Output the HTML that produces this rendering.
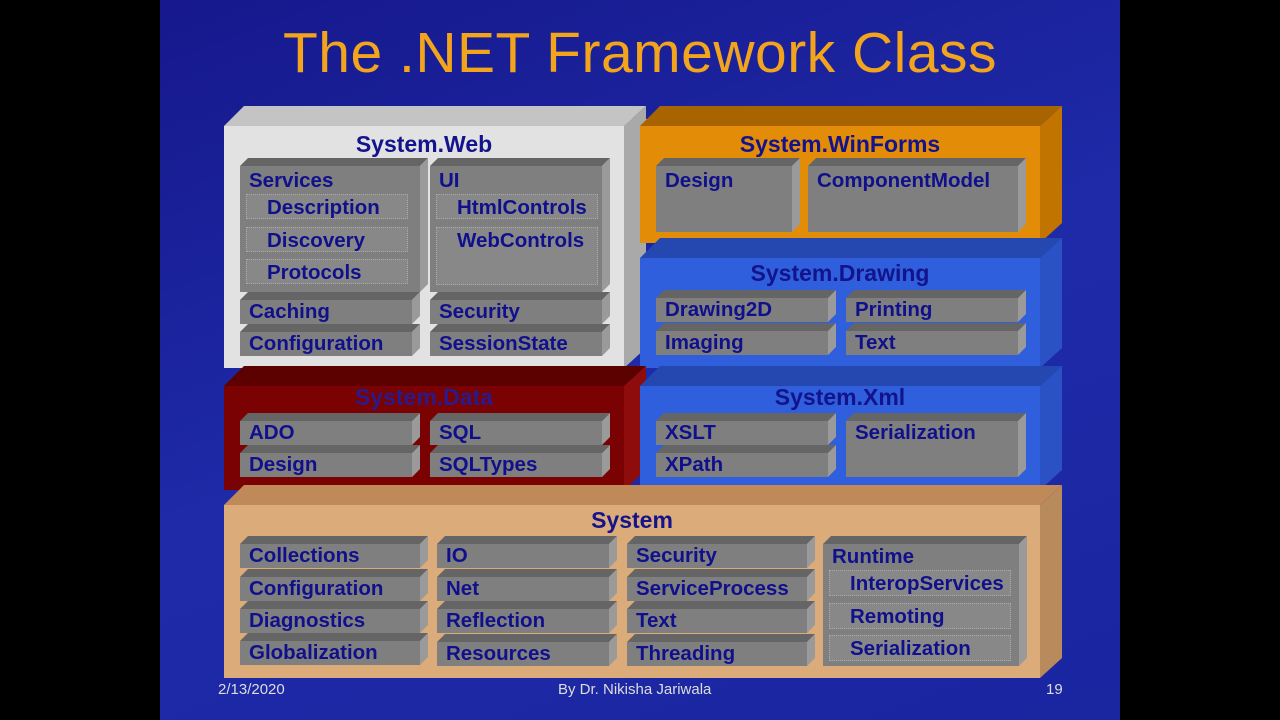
<!DOCTYPE html>
<html><head><meta charset="utf-8"><style>
*{margin:0;padding:0;box-sizing:border-box}
body{width:1280px;height:720px;background:#000;position:relative;overflow:hidden;font-family:"Liberation Sans",Arial,sans-serif;font-weight:bold}
#bg{position:absolute;left:160px;top:0;width:960px;height:720px;background:linear-gradient(160deg,#16188c 0%,#1e2aa8 50%,#1a26a0 100%)}
.title{position:absolute;left:160px;width:960px;top:20px;text-align:center;color:#f2a41c;font-size:57px;font-weight:normal;letter-spacing:0.5px}
.lib{position:absolute;left:540px;top:97px;color:#f2a41c;font-size:57px;font-weight:normal}
.p{position:absolute}
.p::before{content:'';position:absolute;left:0;top:-20px;width:calc(100% + 22px);height:20px;background:var(--t);clip-path:polygon(20px 0,100% 0,calc(100% - 22px) 100%,0 100%)}
.p::after{content:'';position:absolute;right:-22px;top:-20px;width:22px;height:calc(100% + 20px);background:var(--s);clip-path:polygon(0 20px,100% 0,100% calc(100% - 20px),0 100%)}
.pt{position:absolute;left:0;width:100%;text-align:center;font-size:23px;color:#13138c;top:5px}
.b{position:absolute;background:#7f7f7f;color:#10108c;font-size:20.5px;padding:3px 0 0 9px;white-space:nowrap}
.b::before{content:'';position:absolute;left:0;top:-8px;width:calc(100% + 8px);height:8px;background:#656565;clip-path:polygon(8px 0,100% 0,calc(100% - 8px) 100%,0 100%)}
.b::after{content:'';position:absolute;right:-8px;top:-8px;width:8px;height:calc(100% + 8px);background:#9a9a9a;clip-path:polygon(0 8px,100% 0,100% calc(100% - 8px),0 100%)}
.s{position:absolute;background:#888;border:1px dotted #aaa;color:#10108c;font-size:20.5px;padding:1px 0 0 20px;white-space:nowrap}
.f{position:absolute;top:681px;color:#ddd;font-size:15px;font-weight:normal}
</style></head><body>
<div id="bg"></div>
<div class="title">The .NET Framework Class</div>
<div class="lib">Library</div>

<div class="p" style="left:224px;top:126px;width:400px;height:242px;background:#e2e2e2;--t:#c4c4c4;--s:#a9a9a9"><div class="pt">System.Web</div></div>
<div class="p" style="left:640px;top:126px;width:400px;height:117px;background:#e38c08;--t:#a86400;--s:#c27400"><div class="pt">System.WinForms</div></div>
<div class="p" style="left:640px;top:258px;width:400px;height:110px;background:#2f5fdc;--t:#2448b0;--s:#2a52c4"><div class="pt" style="top:2px">System.Drawing</div></div>
<div class="p" style="left:224px;top:386px;width:400px;height:104px;background:#7a0202;--t:#5c0000;--s:#8e0c0c"><div class="pt" style="top:-2px;color:#2a1a8c">System.Data</div></div>
<div class="p" style="left:640px;top:386px;width:400px;height:104px;background:#2f5fdc;--t:#2448b0;--s:#2a52c4"><div class="pt" style="top:-2px">System.Xml</div></div>
<div class="p" style="left:224px;top:505px;width:816px;height:173px;background:#dcab7a;--t:#c08a58;--s:#b88a5c"><div class="pt" style="top:2px">System</div></div>

<div class="b" style="left:240px;top:166px;width:180px;height:126px">Services</div>
<div class="s" style="left:246px;top:194px;width:162px;height:25px">Description</div>
<div class="s" style="left:246px;top:227px;width:162px;height:25px">Discovery</div>
<div class="s" style="left:246px;top:259px;width:162px;height:25px">Protocols</div>
<div class="b" style="left:240px;top:300px;width:172px;height:24px;padding-top:0">Caching</div>
<div class="b" style="left:240px;top:332px;width:172px;height:24px;padding-top:0">Configuration</div>
<div class="b" style="left:430px;top:166px;width:172px;height:126px">UI</div>
<div class="s" style="left:436px;top:194px;width:162px;height:25px">HtmlControls</div>
<div class="s" style="left:436px;top:227px;width:162px;height:58px">WebControls</div>
<div class="b" style="left:430px;top:300px;width:172px;height:24px;padding-top:0">Security</div>
<div class="b" style="left:430px;top:332px;width:172px;height:24px;padding-top:0">SessionState</div>

<div class="b" style="left:656px;top:166px;width:136px;height:66px">Design</div>
<div class="b" style="left:808px;top:166px;width:210px;height:66px">ComponentModel</div>

<div class="b" style="left:656px;top:298px;width:172px;height:24px;padding-top:0">Drawing2D</div>
<div class="b" style="left:656px;top:331px;width:172px;height:24px;padding-top:0">Imaging</div>
<div class="b" style="left:846px;top:298px;width:172px;height:24px;padding-top:0">Printing</div>
<div class="b" style="left:846px;top:331px;width:172px;height:24px;padding-top:0">Text</div>

<div class="b" style="left:240px;top:421px;width:172px;height:24px;padding-top:0">ADO</div>
<div class="b" style="left:240px;top:453px;width:172px;height:24px;padding-top:0">Design</div>
<div class="b" style="left:430px;top:421px;width:172px;height:24px;padding-top:0">SQL</div>
<div class="b" style="left:430px;top:453px;width:172px;height:24px;padding-top:0">SQLTypes</div>

<div class="b" style="left:656px;top:421px;width:172px;height:24px;padding-top:0">XSLT</div>
<div class="b" style="left:656px;top:453px;width:172px;height:24px;padding-top:0">XPath</div>
<div class="b" style="left:846px;top:421px;width:172px;height:56px;padding-top:0">Serialization</div>

<div class="b" style="left:240px;top:544px;width:180px;height:24px;padding-top:0">Collections</div>
<div class="b" style="left:240px;top:577px;width:180px;height:24px;padding-top:0">Configuration</div>
<div class="b" style="left:240px;top:609px;width:180px;height:24px;padding-top:0">Diagnostics</div>
<div class="b" style="left:240px;top:641px;width:180px;height:24px;padding-top:0">Globalization</div>
<div class="b" style="left:437px;top:544px;width:172px;height:24px;padding-top:0">IO</div>
<div class="b" style="left:437px;top:577px;width:172px;height:24px;padding-top:0">Net</div>
<div class="b" style="left:437px;top:609px;width:172px;height:24px;padding-top:0">Reflection</div>
<div class="b" style="left:437px;top:642px;width:172px;height:24px;padding-top:0">Resources</div>
<div class="b" style="left:627px;top:544px;width:180px;height:24px;padding-top:0">Security</div>
<div class="b" style="left:627px;top:577px;width:180px;height:24px;padding-top:0">ServiceProcess</div>
<div class="b" style="left:627px;top:609px;width:180px;height:24px;padding-top:0">Text</div>
<div class="b" style="left:627px;top:642px;width:180px;height:24px;padding-top:0">Threading</div>
<div class="b" style="left:823px;top:544px;width:196px;height:122px;padding-top:1px">Runtime</div>
<div class="s" style="left:829px;top:570px;width:182px;height:26px">InteropServices</div>
<div class="s" style="left:829px;top:603px;width:182px;height:26px">Remoting</div>
<div class="s" style="left:829px;top:635px;width:182px;height:26px">Serialization</div>

<div class="f" style="left:218px">2/13/2020</div>
<div class="f" style="left:558px">By Dr. Nikisha Jariwala</div>
<div class="f" style="left:1046px">19</div>
</body></html>
